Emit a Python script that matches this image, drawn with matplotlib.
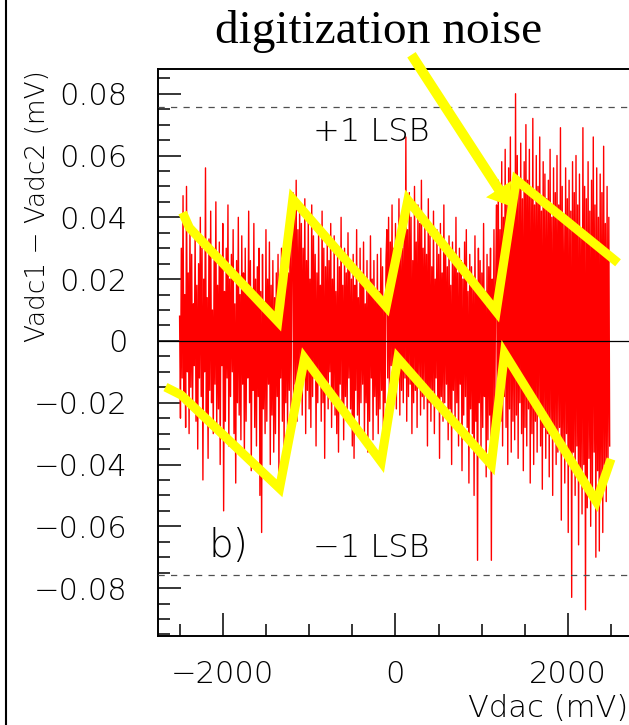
import numpy as np
import matplotlib
matplotlib.use("Agg")
import matplotlib.pyplot as plt
from matplotlib.ticker import MultipleLocator, FuncFormatter
from matplotlib.lines import Line2D

# Vadc1 - Vadc2, in uV, one sample every 10 mV of Vdac
vdac_start = -2500
vdac_step = 10
noise_uv = [
    8, -25, 30, -12, 47, -20, 15, -28, 50, -10,
    22, -30, 38, -15, 28, -22, 12, -8, 35, -26,
    18, -35, 25, -12, 40, -18, 30, -45, 20, -10,
    56, -24, 14, -38, 33, -16, 42, -20, 10, -30,
    26, -14, 45, -28, 18, -22, 32, -40, 24, -8,
    38, -55, 16, -26, 30, -12, 44, -34, 20, -18,
    28, -10, 36, -30, 12, -46, 26, -20, 40, -24,
    15, -32, 34, -14, 22, -38, 30, -26, 18, -12,
    42, -20, 26, -42, 14, -16, 38, -28, 20, -34,
    24, -18, 30, -50, 16, -62, 28, -22, 12, -30,
    36, -26, 20, -14, 32, -40, 18, -24, 26, -36,
    14, -30, 22, -18, 28, -44, 20, -12, 30, -26,
    24, -34, 16, -20, 34, -28, 22, -16, 38, -22,
    30,
    48, -20, 42, -14, 52, -26, 36, -18, 44, -10,
    38, -24, 30, -12, 46, -30, 26, -16, 40, -22,
    20, -28, 44, -18, 34, -12, 28, -34, 22, -20,
    36, -14, 18, -26, 42, -20, 30, -38, 24, -16,
    32, -22, 26, -10, 38, -28, 20, -18, 34, -24,
    16, -30, 28, -36, 24, -14, 40, -20, 18, -32,
    30, -18, 22, -26, 35, -12, 26, -22, 20, -34,
    28, -38, 18, -16, 36, -24, 14, -28, 30, -20,
    22, -14, 32, -30, 12, -20, 26, -36, 18, -26,
    34, -12, 20, -32, 26, -18, 14, -24, 28, -30,
    16, -22, 30, -16, 24, -34, 12, -20, 26,
    36, -12, 40, -20, 32, -8, 44, -18, 30, -14,
    38, -22, 28, -10, 46, -24, 34, -16, 30, -20,
    42, -12, 66, -26, 36, -18, 48, -14, 40, -30,
    26, -20, 50, -16, 32, -28, 44, -12, 38, -24,
    52, -18, 30, -22, 40, -14, 28, -34, 46, -20,
    34, -26, 24, -16, 42, -30, 20, -12, 36, -22,
    28, -38, 38, -18, 22, -26, 44, -20, 30, -14,
    24, -32, 34, -22, 18, -40, 32, -16, 26, -28,
    40, -20, 22, -34, 30, -14, 26, -42, 20, -24,
    32, -18, 36, -28, 16, -46, 28, -22, 24, -30,
    20, -50, 34, -26, 18, -71, 30, -20, 26, -36,
    22, -28, 38, -18, 16, -44, 28, -32, 24, -24,
    30, -71, 20, -26, 36, -20, 18,
    44, -30, 52, -20, 36, -26, 58, -34, 40, -18,
    62, -28, 46, -40, 56, -22, 66, -36, 48, -26,
    54, -32, 80, -24, 60, -38, 50, -20, 64, -30,
    46, -42, 58, -28, 70, -34, 52, -22, 62, -46,
    48, -30, 72, -40, 44, -26, 60, -36, 50, -24,
    66, -34, 42, -48, 58, -28, 54, -38, 46, -30,
    52, -44, 62, -26, 40, -50, 56, -32, 48, -40,
    60, -36, 44, -28, 69, -58, 50, -34, 38, -46,
    56, -30, 46, -62, 52, -40, 42, -83, 58, -36,
    48, -50, 60, -34, 44, -66, 54, -42, 36, -56,
    69, -40, 50, -87, 46, -54, 58, -38, 42, -60,
    52, -48, 66, -36, 44, -70, 56, -42, 40, -68,
    54, -46, 48, -62, 63, -40, 38, -52, 50, -44,
    40, -34,
]

# hand drawn yellow sawtooth lines
upper_x = [-2444, -2386, -1363, -1189, -108, 143, 1166, 1398, 2536]
upper_y = [0.0402, 0.0366, 0.0063, 0.0459, 0.0111, 0.0456, 0.0095, 0.0521, 0.0262]
lower_x = [-2617, -2482, -1343, -1054, -166, 27, 1109, 1262, 2325, 2478]
lower_y = [-0.0156, -0.0175, -0.0477, -0.0056, -0.0391, -0.0056, -0.0401, -0.0040, -0.0520, -0.0396]

lsb = 0.0757

vdac = vdac_start + vdac_step * np.arange(len(noise_uv))
diff = np.array(noise_uv) / 1000.0

plt.rcParams['font.family'] = 'DejaVu Sans'
plt.rcParams['font.weight'] = 200
yellow = '#ffff00'

fig = plt.figure(figsize=(6.29, 7.25), dpi=100)
W, H = 629.0, 725.0
ax = fig.add_axes([158 / W, 1 - 636 / H, 475 / W, 567 / H])

ax.plot(vdac, diff, color='red', lw=1.0, zorder=2)
ax.axhline(0, color='black', lw=0.9, zorder=3)
for lvl in (lsb, -lsb):
    ax.axhline(lvl, color='#505050', lw=0.9, ls=(0, (5, 5)), zorder=3)

ax.plot(upper_x, upper_y, color=yellow, lw=6.5, solid_joinstyle='miter', zorder=4)
ax.plot(lower_x, lower_y, color=yellow, lw=6.5, solid_joinstyle='miter', zorder=4)

ax.annotate('', xy=(1320, 0.0437), xytext=(185, 0.0926),
            arrowprops=dict(arrowstyle='simple,head_length=0.72,head_width=1.08,tail_width=0.36',
                            mutation_scale=20, color=yellow, lw=0, shrinkA=0, shrinkB=0),
            annotation_clip=False, zorder=5)

ax.set_xlim(-2750, 2750)
ax.set_ylim(-0.0955, 0.088)

ax.xaxis.set_major_locator(MultipleLocator(2000))
ax.xaxis.set_minor_locator(MultipleLocator(500))
ax.yaxis.set_major_locator(MultipleLocator(0.02))
ax.yaxis.set_minor_locator(MultipleLocator(0.005))


def fmt(v, pos):
    if abs(v) < 1e-9:
        return '0'
    return ('%g' % round(v, 4)).replace('-', '\u2212')


ax.xaxis.set_major_formatter(FuncFormatter(fmt))
ax.yaxis.set_major_formatter(FuncFormatter(fmt))

ax.tick_params(which='both', direction='in', width=1.1, labelsize=22,
               top=False, right=False)
ax.tick_params(which='major', length=16.5)
ax.tick_params(which='minor', length=8.5)
ax.tick_params(axis='x', pad=17)
ax.tick_params(axis='y', pad=22)
for s in ax.spines.values():
    s.set_linewidth(1.4)

ax.text(-961, 0.0647, '+1 LSB', fontsize=23, va='baseline')
ax.text(-961, -0.0699, '\u22121 LSB', fontsize=23, va='baseline')
ax.text(-2166, -0.0699, 'b)', fontsize=28, va='baseline')

fig.text(38 / W, 1 - 70 / H, 'Vadc1 \u2212 Vadc2 (mV)', rotation=90,
         ha='center', va='top', fontsize=19)
fig.text(628 / W, 1 - 717 / H, 'Vdac (mV)', ha='right', va='baseline', fontsize=22)
fig.text(215 / W, 1 - 43 / H, 'digitization noise', family='Liberation Serif',
         fontweight='normal', fontsize=34, va='baseline')

fig.add_artist(Line2D([6.5 / W, 6.5 / W], [0, 1], color='black', lw=1.5,
                      transform=fig.transFigure))

fig.savefig('out.png', dpi=100)
